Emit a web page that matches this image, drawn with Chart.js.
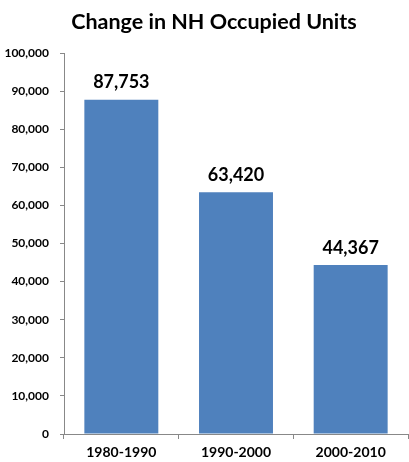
<!DOCTYPE html>
<html>
<head>
<meta charset="utf-8">
<script src="https://cdn.jsdelivr.net/npm/chart.js@4"></script>
<style>
    body {
        margin: 0;
        background: #fff;
    }
    canvas {
        display: block;
    }
</style>
</head>
<body>
<canvas id="grafico" width="409" height="462"></canvas>

<script>
    // dati
    var titolo = "Change in NH Occupied Units";
    var periodi = ["1980-1990", "1990-2000", "2000-2010"];
    var unita = [87753, 63420, 44367];
    var tickY = [0, 10000, 20000, 30000, 40000, 50000, 60000, 70000, 80000, 90000, 100000];

    var fontBase = "Lato, 'Open Sans', sans-serif";
    var grigio = "#888888";

    // titolo e etichette sopra le barre
    var testi = {
        id: "testi",
        afterDatasetsDraw: function(chart) {
            var ctx = chart.ctx;
            var meta = chart.getDatasetMeta(0);
            ctx.save();
            ctx.fillStyle = "#000";
            ctx.textAlign = "center";
            ctx.textBaseline = "middle";
            ctx.font = "bold 21.5px " + fontBase;
            ctx.fillText(titolo, 214, 22);
            ctx.font = "bold 18px " + fontBase;
            for (var i = 0; i < meta.data.length; i++) {
                var bar = meta.data[i];
                ctx.fillText(unita[i].toLocaleString("en-US"), bar.x, bar.y - 17);
            }
            ctx.restore();
        }
    };

    new Chart("grafico", {
        type: "bar",
        data: {
            labels: periodi,
            datasets: [{
                data: unita,
                backgroundColor: "#4F81BD",
                borderWidth: 0,
                categoryPercentage: 1,
                barPercentage: 0.645
            }]
        },
        options: {
            responsive: false,
            animation: false,
            layout: {
                padding: { left: 0, right: 1, top: 53, bottom: 0 }
            },
            plugins: {
                legend: { display: false },
                tooltip: { enabled: false },
                title: { display: false }
            },
            scales: {
                x: {
                    afterFit: function(scale) { scale.height = 28; },
                    grid: {
                        offset: true,
                        drawOnChartArea: false,
                        tickLength: 5,
                        color: grigio
                    },
                    border: { display: true, color: grigio },
                    ticks: {
                        color: "#000",
                        padding: 5,
                        font: { family: fontBase, size: 14, weight: "bold" }
                    }
                },
                y: {
                    min: 0,
                    max: 100000,
                    afterFit: function(scale) { scale.width = 64; },
                    afterBuildTicks: function(scale) {
                        scale.ticks = tickY.map(function(v) { return { value: v }; });
                    },
                    grid: {
                        drawOnChartArea: false,
                        tickLength: 4,
                        color: grigio
                    },
                    border: { display: true, color: grigio },
                    ticks: {
                        color: "#000",
                        padding: 11,
                        font: { family: fontBase, size: 12, weight: "bold" },
                        callback: function(v) { return v.toLocaleString("en-US"); }
                    }
                }
            }
        },
        plugins: [testi]
    });
</script>
</body>
</html>
